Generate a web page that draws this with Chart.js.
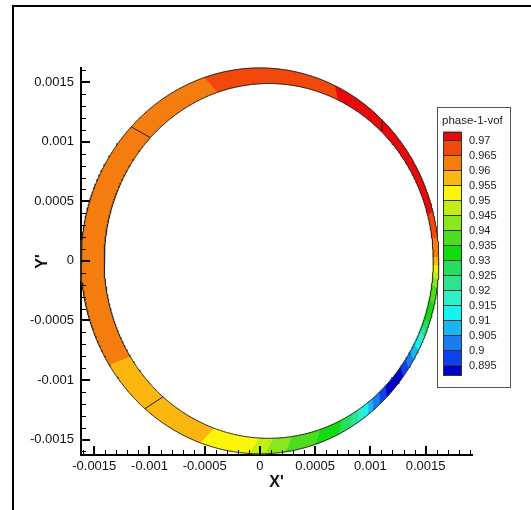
<!DOCTYPE html>
<html><head><meta charset="utf-8">
<script src="https://cdn.jsdelivr.net/npm/chart.js@4.4.1/dist/chart.umd.min.js"></script>
<style>html,body{margin:0;padding:0;background:#fff;}#wrap{width:531px;height:510px;position:relative;}</style>
</head><body><div id="wrap"><canvas id="c" width="531" height="510"></canvas></div>
<script>
// ---- data ----
const legendTitle = 'phase-1-vof';
const levelLabels = ['0.97','0.965','0.96','0.955','0.95','0.945','0.94','0.935','0.93','0.925','0.92','0.915','0.91','0.905','0.9','0.895'];
const levelColors = ['#e60a0a','#f2480c','#f57d10','#fbb70f','#fbf50a','#c2ee14','#8ae61e','#4edc1e','#10dc10','#22e05c','#2ce38f','#2eefc6','#14f2f2','#1ab6f0','#1a7cf0','#0c42ee','#0000c8'];
const xTicks = [-0.0015,-0.001,-0.0005,0,0.0005,0.001,0.0015];
const yTicks = [-0.0015,-0.001,-0.0005,0,0.0005,0.001,0.0015];
const xTitle = "X'";
const yTitle = "Y'";
// ring segments: start angle (deg, ccw from +x) and phase-1-vof value
const segStart = [15,65,108,212.5,250.5,266.5,271.5,278,288,296,300,303,305,307,309,312,315,323,326,329,332,334.5,336.5,338.5,341,347,352,354.5,356.5,358.5,361,367];
const segValue = [0.972,0.967,0.962,0.957,0.952,0.947,0.942,0.937,0.932,0.927,0.922,0.917,0.912,0.907,0.902,0.897,0.892,0.897,0.902,0.907,0.912,0.917,0.922,0.927,0.932,0.937,0.942,0.947,0.952,0.957,0.962,0.967];
const outerCenter = [0, 0];
const outerRadius = 0.00162;
const innerCenter = [0.00008, 0];
const innerRadius = 0.00149;
const meshLineAngles = [47, 136, 230];

// ---- helpers ----
const levelBounds = levelLabels.map(Number);
function colorFor(v){ let k=0; for(const b of levelBounds){ if(v<b) k++; } return levelColors[k]; }
function arc(c, r, a0, a1){
  const n = Math.max(2, Math.ceil(Math.abs(a1-a0)/0.5)) ;
  const pts=[];
  for(let i=0;i<=n;i++){ const a=(a0+(a1-a0)*i/n)*Math.PI/180; pts.push({x:c[0]+r*Math.cos(a), y:c[1]+r*Math.sin(a)}); }
  return pts;
}
const datasets = [];
for(let i=0;i<segStart.length;i++){
  const a0 = segStart[i], a1 = (i+1<segStart.length)? segStart[i+1] : segStart[0]+360;
  const pts = arc(outerCenter, outerRadius, a0, a1).concat(arc(innerCenter, innerRadius, a1, a0));
  pts.push(pts[0]);
  const col = colorFor(segValue[i]);
  datasets.push({data:pts, showLine:true, fill:'shape', backgroundColor:col, borderColor:col, borderWidth:1, pointRadius:0, tension:0, order:3, clip:false});
}
datasets.push({data:arc(outerCenter, outerRadius, 0, 360), showLine:true, fill:false, borderColor:'#2a2a2a', borderWidth:1, pointRadius:0, order:1, clip:false});
datasets.push({data:arc(innerCenter, innerRadius, 0, 360), showLine:true, fill:false, borderColor:'#2a2a2a', borderWidth:1, pointRadius:0, order:1, clip:false});
for(const a of meshLineAngles){
  const r = a*Math.PI/180;
  datasets.push({data:[{x:innerCenter[0]+innerRadius*Math.cos(r), y:innerCenter[1]+innerRadius*Math.sin(r)},{x:outerCenter[0]+outerRadius*Math.cos(r), y:outerCenter[1]+outerRadius*Math.sin(r)}], showLine:true, fill:false, borderColor:'#222', borderWidth:1, pointRadius:0, order:1, clip:false});
}

const FONT = '"Liberation Sans", Arial, sans-serif';
const fmt = v => String(Math.round(v*1e5)/1e5);

const ticksPlugin = {
  id:'inticks',
  beforeDatasetsDraw(chart){
    const ctx=chart.ctx;
    ctx.save();
    // legend box (ring is drawn over it)
    const bx=437, by=107, bw=73, bh=280;
    ctx.fillStyle='#fff'; ctx.fillRect(bx,by,bw,bh);
    ctx.strokeStyle='#555'; ctx.lineWidth=1; ctx.strokeRect(bx+0.5,by+0.5,bw,bh);
    ctx.fillStyle='#222'; ctx.font='11.5px '+FONT; ctx.textBaseline='middle'; ctx.textAlign='left';
    ctx.fillText(legendTitle, bx+5, by+14);
    const sx=443, sw=18, step=15, first=140;
    const tops=[131.5]; for(let i=0;i<levelLabels.length;i++) tops.push(first+i*step);
    tops.push(first+(levelLabels.length-1)*step+10);
    for(let i=0;i<levelColors.length;i++){
      ctx.fillStyle=levelColors[i]; ctx.fillRect(sx, tops[i], sw, tops[i+1]-tops[i]);
      ctx.strokeStyle='#333'; ctx.strokeRect(sx+0.5, Math.round(tops[i])+0.5, sw, Math.round(tops[i+1])-Math.round(tops[i]));
    }
    ctx.fillStyle='#222'; ctx.font='11px '+FONT;
    levelLabels.forEach((t,i)=>ctx.fillText(t, 469, first+i*step+1));
    ctx.restore();
  },
  afterDatasetsDraw(chart){
    const ctx=chart.ctx, xs=chart.scales.x, ys=chart.scales.y, ca=chart.chartArea;
    ctx.save(); ctx.strokeStyle='#000';
    const minorStep=0.0001;
    for(let k=Math.ceil(xs.min/minorStep); k*minorStep<=xs.max+1e-12; k++){
      const v=k*minorStep, major = Math.abs(v*2000-Math.round(v*2000))<1e-6;
      const px=Math.round(xs.getPixelForValue(v));
      ctx.lineWidth = major?2:1;
      ctx.beginPath(); ctx.moveTo(px+(major?0:0.5), ca.bottom); ctx.lineTo(px+(major?0:0.5), ca.bottom-(major?9:5)); ctx.stroke();
    }
    for(let k=Math.ceil(ys.min/minorStep); k*minorStep<=ys.max+1e-12; k++){
      const v=k*minorStep, major = Math.abs(v*2000-Math.round(v*2000))<1e-6;
      const py=Math.round(ys.getPixelForValue(v));
      ctx.lineWidth = major?2:1;
      ctx.beginPath(); ctx.moveTo(ca.left, py+(major?0:0.5)); ctx.lineTo(ca.left+(major?9:5), py+(major?0:0.5)); ctx.stroke();
    }
    ctx.restore();
  },
  afterDraw(chart){
    const ctx=chart.ctx;
    ctx.save();
    ctx.strokeStyle='#000'; ctx.lineWidth=2;
    ctx.beginPath(); ctx.moveTo(13,510); ctx.lineTo(13,6); ctx.lineTo(531,6); ctx.stroke();
    ctx.restore();
  }
};

new Chart(document.getElementById('c'), {
  type:'scatter',
  data:{datasets},
  plugins:[ticksPlugin],
  options:{
    responsive:false, animation:false, events:[],
    layout:{padding:{left:0, top:68, right:59, bottom:0}},
    plugins:{legend:{display:false}, tooltip:{enabled:false}},
    scales:{
      x:{type:'linear', min:-0.00162, max:0.00192,
        afterBuildTicks:s=>{s.ticks=xTicks.map(v=>({value:v}));},
        afterFit:s=>{s.height=55;},
        grid:{display:false, drawTicks:false},
        border:{display:true, color:'#000', width:2},
        ticks:{padding:4, color:'#111', font:{family:FONT, size:13}, callback:v=>fmt(v), maxRotation:0, autoSkip:false},
        title:{display:true, text:xTitle, color:'#111', font:{family:FONT, size:16, weight:'bold'}, padding:{top:0,bottom:18}}
      },
      y:{type:'linear', min:-0.00163, max:0.00162,
        afterBuildTicks:s=>{s.ticks=yTicks.map(v=>({value:v}));},
        afterFit:s=>{s.width=81;},
        grid:{display:false, drawTicks:false},
        border:{display:true, color:'#000', width:2},
        ticks:{padding:7, color:'#111', font:{family:FONT, size:13}, callback:v=>fmt(v), autoSkip:false},
        title:{display:true, text:yTitle, color:'#111', font:{family:FONT, size:16, weight:'bold'}, padding:{top:33,bottom:0}}
      }
    }
  }
});
</script></body></html>
